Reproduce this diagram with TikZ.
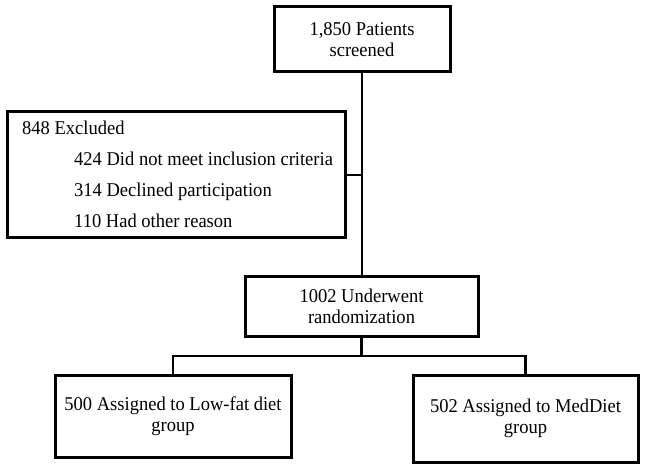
\documentclass[tikz,border=0pt]{standalone}
\usepackage{fontspec}
\setmainfont{Liberation Serif}[FakeStretch=0.95]
\begin{document}
\begin{tikzpicture}[x=1pt,y=-1pt,
  box/.style={draw=black, line width=3pt, fill=white, align=center, inner sep=0pt,
              font=\fontsize{19.5}{21}\selectfont},
  conn/.style={draw=black, line width=2.8pt},
  txt/.style={inner sep=0pt, font=\fontsize{19.5}{21}\selectfont, anchor=base west}]
\useasboundingbox (0,0) rectangle (645,470);
\fill[white] (0,0) rectangle (645,470);
% boxes
\node[box, minimum width=176pt, minimum height=65pt] (top) at (362,39.5) {1,850 Patients\\screened};
\node[box, minimum width=338pt, minimum height=126pt] (excl) at (176,175) {};
\node[box, minimum width=233pt, minimum height=59pt] (rand) at (361.5,306.5) {1002 Underwent\\randomization};
\node[box, minimum width=236pt, minimum height=82pt] (left) at (173,416) {500 Assigned to Low-fat diet\\group};
\node[box, minimum width=225pt, minimum height=87pt] (right) at (525.5,418.5) {502 Assigned to MedDiet\\group};
% excluded texts
\node[txt] (e0) at (22,135) {848 Excluded};
\node[txt] (e1) at (74,166) {424 Did not meet inclusion criteria};
\node[txt] (e2) at (74,197) {314 Declined participation};
\node[txt] (e3) at (74,228) {110 Had other reason};
% connectors
\coordinate (j) at (361.5,356);
\draw[conn] (top.south) -- (top.south |- rand.north);
\draw[conn] (excl.east) -- (excl.east -| top.south);
\draw[conn] (rand.south) -- (j);
\draw[conn] (left.north) |- (j);
\draw[conn] (right.north) |- (j);
\end{tikzpicture}
\end{document}
